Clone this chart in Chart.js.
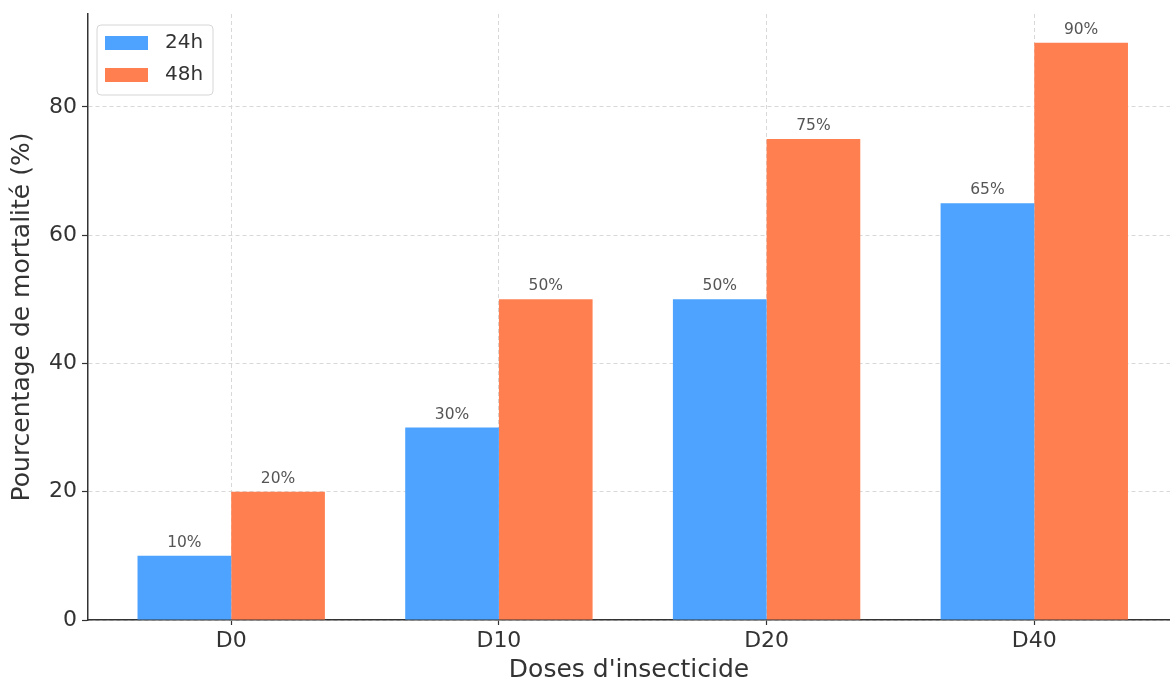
<!DOCTYPE html>
<html><head><meta charset="utf-8">
<script src="https://cdn.jsdelivr.net/npm/chart.js@4/dist/chart.umd.min.js"></script>
<style>html,body{margin:0;padding:0;background:#fff;overflow:hidden}#wrap{width:1170px;height:685px;position:relative}</style>
</head><body><div id="wrap"><canvas id="c"></canvas></div>
<script>
const categories = ['D0', 'D10', 'D20', 'D40'];
const seriesLabels = ['24h', '48h'];
const values24h = [10, 30, 50, 65];
const values48h = [20, 50, 75, 90];
const yTicks = [0, 20, 40, 60, 80];
const seriesColors = ['#4da3ff', '#ff7f50'];
const yTitle = 'Pourcentage de mortalité (%)';
const xTitle = "Doses d'insecticide";

const FONT = "'DejaVu Sans', sans-serif";
const toPoints = arr => arr.map((v, i) => ({x: i, y: v}));

const valueLabels = {
  id: 'valueLabels',
  afterDatasetsDraw(chart) {
    const ctx = chart.ctx;
    ctx.save();
    ctx.font = '15.5px ' + FONT;
    ctx.fillStyle = '#555';
    ctx.textAlign = 'center';
    ctx.textBaseline = 'alphabetic';
    chart.data.datasets.forEach((ds, di) => {
      chart.getDatasetMeta(di).data.forEach((el, i) => {
        ctx.fillText(ds.data[i].y + '%', el.x, el.y - 9);
      });
    });
    ctx.restore();
  }
};

const frameLegend = {
  id: 'frameLegend',
  afterDraw(chart) {
    const ctx = chart.ctx, a = chart.chartArea;
    const x0 = a.left + 9, y0 = a.top + 11, w = 116, h = 70, r = 4;
    ctx.save();
    ctx.beginPath();
    ctx.roundRect(x0, y0, w, h, r);
    ctx.fillStyle = 'rgba(255,255,255,0.85)';
    ctx.fill();
    ctx.strokeStyle = '#d6d6d6';
    ctx.lineWidth = 1;
    ctx.stroke();
    chart.data.datasets.forEach((ds, i) => {
      const cy = y0 + 18 + i * 32;
      ctx.fillStyle = ds.backgroundColor;
      ctx.fillRect(x0 + 8, cy - 7, 43, 14);
      ctx.fillStyle = '#333';
      ctx.font = '20px ' + FONT;
      ctx.textAlign = 'left';
      ctx.textBaseline = 'middle';
      ctx.fillText(ds.label, x0 + 68, cy);
    });
    ctx.restore();
  }
};

new Chart(document.getElementById('c'), {
  type: 'bar',
  data: {
    datasets: [
      {label: seriesLabels[0], data: toPoints(values24h), backgroundColor: seriesColors[0]},
      {label: seriesLabels[1], data: toPoints(values48h), backgroundColor: seriesColors[1]}
    ]
  },
  options: {
    responsive: true,
    maintainAspectRatio: false,
    animation: false,
    categoryPercentage: 0.7,
    barPercentage: 1.0,
    layout: {padding: {top: 14, right: 0, left: 0, bottom: 0}},
    plugins: {legend: {display: false}, tooltip: {enabled: false}},
    scales: {
      x: {
        type: 'linear',
        offset: false,
        min: -0.535,
        max: 3.507,
        afterBuildTicks: s => { s.ticks = categories.map((_, i) => ({value: i})); },
        afterFit: s => { s.height = 65; s.paddingLeft = 0; s.paddingRight = 0; },
        ticks: {
          callback: v => categories[v] !== undefined ? categories[v] : '',
          font: {family: FONT, size: 22},
          color: '#333',
          padding: 3,
          maxRotation: 0,
          autoSkip: false
        },
        grid: {offset: false, color: '#d8d8d8', lineWidth: 1, drawTicks: true, tickLength: 5, tickColor: '#333', tickWidth: 1.2, tickBorderDash: []},
        border: {display: true, color: '#333', width: 1.5, dash: [4, 3]},
        title: {display: true, text: xTitle, font: {family: FONT, size: 25}, color: '#333', padding: {top: 0, bottom: 0}}
      },
      y: {
        type: 'linear',
        min: 0,
        max: 94.5,
        afterBuildTicks: s => { s.ticks = yTicks.map(v => ({value: v})); },
        afterFit: s => { s.width = 88; s.paddingTop = 0; s.paddingBottom = 0; },
        ticks: {font: {family: FONT, size: 22}, color: '#333', padding: 5},
        grid: {color: '#d8d8d8', lineWidth: 1, drawTicks: true, tickLength: 6, tickColor: '#333', tickWidth: 1.2, tickBorderDash: []},
        border: {display: true, color: '#333', width: 1.5, dash: [4, 3]},
        title: {display: true, text: yTitle, font: {family: FONT, size: 25}, color: '#333', padding: {top: 7, bottom: 0}}
      }
    }
  },
  plugins: [valueLabels, frameLegend]
});
</script>
</body></html>
